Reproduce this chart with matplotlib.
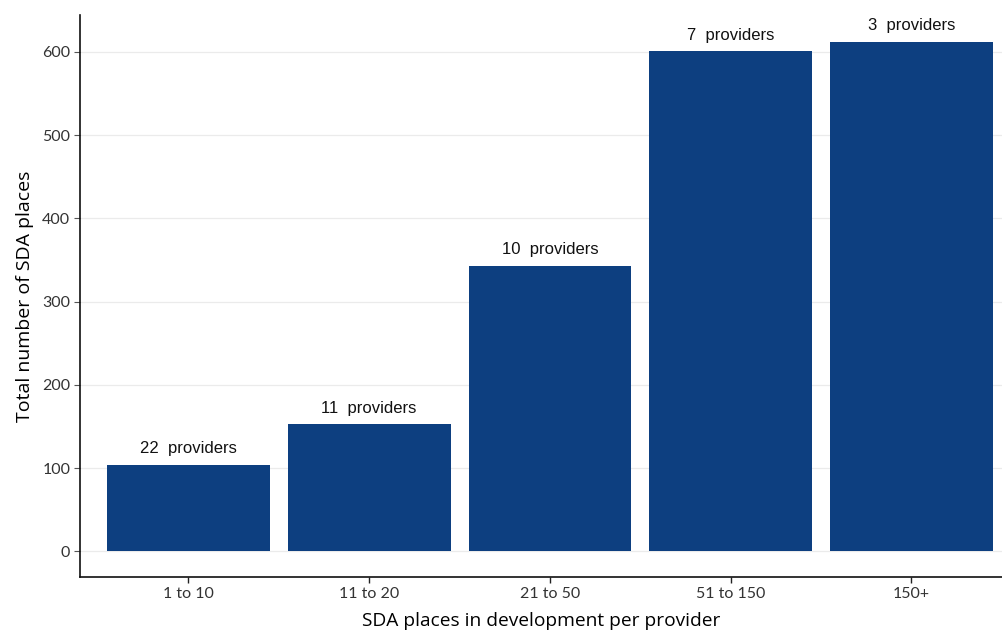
import matplotlib
matplotlib.use("Agg")
import matplotlib.pyplot as plt

categories = ["1 to 10", "11 to 20", "21 to 50", "51 to 150", "150+"]
places = [104, 153, 343, 601, 612]
providers = [22, 11, 10, 7, 3]
yticks = [0, 100, 200, 300, 400, 500, 600]

bar_color = "#0d3f80"

fig = plt.figure(figsize=(10.02, 6.3), dpi=100)
ax = fig.add_axes([0.0798, 0.084, 0.92, 0.892])

x = list(range(1, len(categories) + 1))
ax.bar(x, places, width=0.9, color=bar_color, zorder=2)
for xi, v, p in zip(x, places, providers):
    ax.annotate(f"{p}  providers", (xi, v), xytext=(0, 6), textcoords="offset points",
                ha="center", va="bottom", fontsize=12, family="Liberation Sans", color="#111111")

ax.set_xlim(0.4, 5.5)
ax.set_ylim(-31, 644)
ax.set_xticks(x)
ax.set_xticklabels(categories, family="Lato", fontsize=11.5, color="#333333")
ax.set_yticks(yticks)
ax.set_yticklabels([str(t) for t in yticks], family="Lato", fontsize=11.5, color="#333333")
ax.yaxis.grid(True, color="#ebebeb", linewidth=0.9, zorder=0)
ax.set_axisbelow(True)
ax.tick_params(axis="y", length=4, color="#555555", width=0.8, pad=3)
ax.tick_params(axis="x", length=4, color="#222222", width=1, pad=3)
for s in ["top", "right"]:
    ax.spines[s].set_visible(False)
for s in ["left", "bottom"]:
    ax.spines[s].set_linewidth(1.2)
    ax.spines[s].set_color("#111111")
ax.set_xlabel("SDA places in development per provider", family="Open Sans", fontsize=13.8, labelpad=8)
ax.set_ylabel("Total number of SDA places", family="Open Sans", fontsize=14, labelpad=6)

fig.savefig("out.png", dpi=100)
